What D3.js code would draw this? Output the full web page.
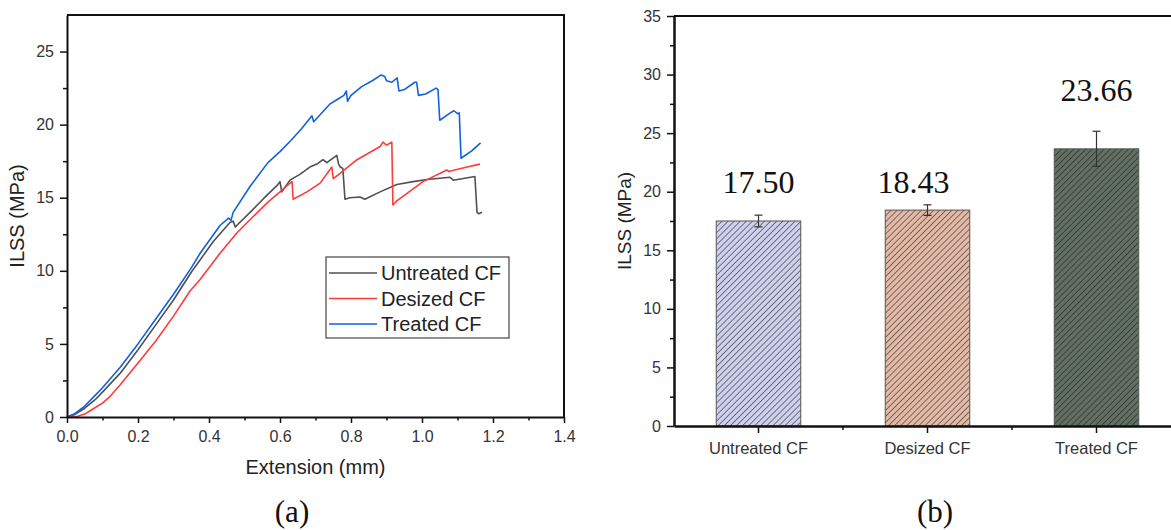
<!DOCTYPE html>
<html>
<head>
<meta charset="utf-8">
<script src="https://cdn.jsdelivr.net/npm/d3@7"></script>
<style>
  body { margin: 0; background: #fff; }
  svg { display: block; }
  text { font-family: "Liberation Sans", Arial, sans-serif; }
  .serif { font-family: "Liberation Serif", "Times New Roman", serif; }
</style>
</head>
<body>
<svg id="chart" width="1171" height="530"></svg>
<script>
// (a) load-extension curves
const untreatedX = [0, 0.02, 0.05, 0.08, 0.1, 0.15, 0.2, 0.25, 0.3, 0.35, 0.412, 0.459, 0.468, 0.474, 0.478, 0.52, 0.552, 0.594, 0.6, 0.605, 0.628, 0.656, 0.684, 0.704, 0.721, 0.732, 0.76, 0.765, 0.77, 0.777, 0.783, 0.797, 0.825, 0.839, 0.882, 0.929, 0.975, 1.014, 1.079, 1.088, 1.149, 1.155, 1.16, 1.169];
const untreatedY = [0, 0.15, 0.6, 1.2, 1.7, 3.0, 4.6, 6.3, 8.0, 9.9, 12.0, 13.3, 13.4, 13.0, 13.1, 14.1, 14.9, 15.9, 16.1, 15.4, 16.2, 16.6, 17.1, 17.3, 17.6, 17.4, 17.9, 17.3, 17.1, 17.0, 14.9, 15.0, 15.05, 14.9, 15.4, 15.9, 16.1, 16.25, 16.4, 16.2, 16.45, 14.0, 13.9, 14.0];

const desizedX = [0, 0.03, 0.05, 0.073, 0.1, 0.121, 0.15, 0.2, 0.25, 0.3, 0.346, 0.375, 0.431, 0.479, 0.524, 0.566, 0.6, 0.623, 0.634, 0.637, 0.676, 0.713, 0.746, 0.75, 0.755, 0.817, 0.882, 0.89, 0.9, 0.915, 0.918, 0.93, 0.958, 1.003, 1.07, 1.075, 1.127, 1.163];
const desizedY = [0, 0.05, 0.2, 0.55, 0.95, 1.4, 2.2, 3.7, 5.2, 6.9, 8.6, 9.4, 11.2, 12.6, 13.7, 14.7, 15.4, 15.9, 16.1, 14.9, 15.4, 16.0, 17.1, 16.3, 16.4, 17.6, 18.5, 18.8, 18.6, 18.8, 14.5, 14.8, 15.3, 16.1, 16.9, 16.8, 17.1, 17.3];

const treatedX = [0, 0.02, 0.05, 0.08, 0.1, 0.15, 0.2, 0.25, 0.3, 0.35, 0.375, 0.431, 0.455, 0.462, 0.468, 0.515, 0.566, 0.6, 0.63, 0.66, 0.69, 0.695, 0.74, 0.76, 0.78, 0.787, 0.79, 0.8, 0.83, 0.86, 0.885, 0.895, 0.9, 0.915, 0.93, 0.935, 0.95, 0.98, 0.985, 0.99, 1.01, 1.04, 1.045, 1.05, 1.08, 1.09, 1.1, 1.105, 1.11, 1.14, 1.165];
const treatedY = [0, 0.2, 0.75, 1.5, 2.0, 3.4, 5.0, 6.7, 8.4, 10.2, 11.2, 13.1, 13.6, 13.45, 14.0, 15.75, 17.4, 18.15, 18.9, 19.7, 20.6, 20.2, 21.4, 21.7, 22.0, 22.3, 21.6, 22.0, 22.6, 23.0, 23.4, 23.3, 23.0, 22.9, 23.2, 22.3, 22.4, 22.9, 22.9, 22.0, 22.1, 22.5, 22.4, 20.3, 20.8, 20.95, 20.75, 20.8, 17.7, 18.2, 18.75];

const seriesNames = ["Untreated CF", "Desized CF", "Treated CF"];
const xTicksA = [0, 0.2, 0.4, 0.6, 0.8, 1.0, 1.2, 1.4];
const yTicksA = [0, 5, 10, 15, 20, 25];

// (b) ILSS bars
const categories = ["Untreated CF", "Desized CF", "Treated CF"];
const ilss = [17.50, 18.43, 23.66];
const ilssErr = [0.5, 0.45, 1.5];
const yTicksB = [0, 5, 10, 15, 20, 25, 30, 35];

const svg = d3.select("#chart");

// ---------- panel (a) ----------
const xA = d3.scaleLinear().domain([0, 1.4]).range([67, 564]);
const yA = d3.scaleLinear().domain([0, 27.5]).range([417, 15]);

const lineColors = ["#505050", "#ff3a3a", "#0f62dc"];
const curves = [
  d3.zip(untreatedX, untreatedY),
  d3.zip(desizedX, desizedY),
  d3.zip(treatedX, treatedY)
];
const line = d3.line().x(d => xA(d[0])).y(d => yA(d[1]));

svg.append("g")
  .selectAll("path")
  .data(curves)
  .enter()
  .append("path")
  .attr("d", line)
  .attr("fill", "none")
  .attr("stroke", (d, i) => lineColors[i])
  .attr("stroke-width", 1.6)
  .attr("stroke-linejoin", "round");

// frame
svg.append("path")
  .attr("d", `M${xA(0)},${yA(27.5)}H${xA(1.4)}V${yA(0)}`)
  .attr("fill", "none").attr("stroke", "#111").attr("stroke-width", 2);

function styleAxis(g, size) {
  g.select(".domain").attr("stroke", "#111").attr("stroke-width", 2);
  g.selectAll(".tick line").attr("stroke", "#111").attr("stroke-width", 1.5);
  g.selectAll(".tick text").attr("fill", "#333").attr("font-size", size);
}

svg.append("g").attr("transform", `translate(0,${yA(0)})`)
  .call(d3.axisBottom(xA).tickValues([0.1, 0.3, 0.5, 0.7, 0.9, 1.1, 1.3]).tickSize(3.5).tickSizeOuter(0).tickFormat(""))
  .call(g => g.select(".domain").remove())
  .call(g => g.selectAll("line").attr("stroke", "#111").attr("stroke-width", 1.5));
svg.append("g").attr("transform", `translate(0,${yA(0)})`)
  .call(d3.axisBottom(xA).tickValues(xTicksA).tickSize(6).tickSizeOuter(0).tickPadding(8).tickFormat(d3.format(".1f")))
  .call(g => styleAxis(g, 16));

svg.append("g").attr("transform", `translate(${xA(0)},0)`)
  .call(d3.axisLeft(yA).tickValues([2.5, 7.5, 12.5, 17.5, 22.5]).tickSize(4).tickSizeOuter(0).tickFormat(""))
  .call(g => g.select(".domain").remove())
  .call(g => g.selectAll("line").attr("stroke", "#111").attr("stroke-width", 1.5));
svg.append("g").attr("transform", `translate(${xA(0)},0)`)
  .call(d3.axisLeft(yA).tickValues(yTicksA).tickSize(7).tickSizeOuter(0).tickPadding(6))
  .call(g => styleAxis(g, 16));

svg.append("text")
  .attr("x", (xA(0) + xA(1.4)) / 2).attr("y", 474)
  .attr("text-anchor", "middle").attr("font-size", 20).attr("fill", "#222")
  .text("Extension (mm)");
svg.append("text")
  .attr("transform", `translate(24,${(yA(0) + yA(27.5)) / 2}) rotate(-90)`)
  .attr("text-anchor", "middle").attr("font-size", 20).attr("fill", "#222")
  .text("ILSS (MPa)");
svg.append("text").attr("class", "serif")
  .attr("x", 292).attr("y", 522)
  .attr("text-anchor", "middle").attr("font-size", 31).attr("fill", "#111")
  .text("(a)");

// legend
const legend = svg.append("g").attr("transform", "translate(326,257)");
legend.append("rect").attr("width", 183).attr("height", 81)
  .attr("fill", "#fff").attr("stroke", "#444").attr("stroke-width", 1.2);
const rows = legend.selectAll("g.row").data(seriesNames).enter()
  .append("g").attr("class", "row")
  .attr("transform", (d, i) => `translate(0,${16 + i * 25.5})`);
rows.append("line").attr("x1", 3).attr("x2", 51)
  .attr("stroke", (d, i) => lineColors[i]).attr("stroke-width", 1.6);
rows.append("text").attr("x", 55).attr("dy", "0.36em")
  .attr("font-size", 20).attr("fill", "#222").text(d => d);

// ---------- panel (b) ----------
const xB = d3.scaleBand().domain(categories).range([674, 1181]).paddingInner(0.5).paddingOuter(0.25);
const yB = d3.scaleLinear().domain([0, 35]).range([426, 16]);

const barFills = ["#cfd0ec", "#e2b9a6", "#627063"];
const hatchColors = ["#3c3c48", "#4a3a34", "#262a26"];
const defs = svg.append("defs");
categories.forEach((c, i) => {
  const p = defs.append("pattern")
    .attr("id", "hatch" + i)
    .attr("patternUnits", "userSpaceOnUse")
    .attr("width", 4.3).attr("height", 4.3)
    .attr("patternTransform", "rotate(45)");
  p.append("rect").attr("width", 4.3).attr("height", 4.3).attr("fill", barFills[i]);
  p.append("line").attr("x1", 0).attr("y1", 0).attr("x2", 0).attr("y2", 4.3)
    .attr("stroke", hatchColors[i]).attr("stroke-width", 1.3);
});

svg.append("g")
  .selectAll("rect")
  .data(categories)
  .enter()
  .append("rect")
  .attr("x", d => xB(d))
  .attr("width", xB.bandwidth())
  .attr("y", (d, i) => yB(ilss[i]))
  .attr("height", (d, i) => yB(0) - yB(ilss[i]))
  .attr("fill", (d, i) => `url(#hatch${i})`)
  .attr("stroke", "#555")
  .attr("stroke-width", 1);

// error bars
const eb = svg.append("g").selectAll("g").data(categories).enter().append("g")
  .attr("stroke", "#333").attr("stroke-width", 1.2);
eb.append("line")
  .attr("x1", d => xB(d) + xB.bandwidth() / 2).attr("x2", d => xB(d) + xB.bandwidth() / 2)
  .attr("y1", (d, i) => yB(ilss[i] - ilssErr[i])).attr("y2", (d, i) => yB(ilss[i] + ilssErr[i]));
eb.append("line")
  .attr("x1", d => xB(d) + xB.bandwidth() / 2 - 4).attr("x2", d => xB(d) + xB.bandwidth() / 2 + 4)
  .attr("y1", (d, i) => yB(ilss[i] + ilssErr[i])).attr("y2", (d, i) => yB(ilss[i] + ilssErr[i]));
eb.append("line")
  .attr("x1", d => xB(d) + xB.bandwidth() / 2 - 4).attr("x2", d => xB(d) + xB.bandwidth() / 2 + 4)
  .attr("y1", (d, i) => yB(ilss[i] - ilssErr[i])).attr("y2", (d, i) => yB(ilss[i] - ilssErr[i]));

// value labels
const labelLevel = [19.9, 19.9, 27.75];
const labelShift = [0, -14, 0];
svg.append("g").selectAll("text").data(categories).enter()
  .append("text").attr("class", "serif")
  .attr("x", (d, i) => xB(d) + xB.bandwidth() / 2 + labelShift[i])
  .attr("y", (d, i) => yB(labelLevel[i]))
  .attr("text-anchor", "middle").attr("font-size", 32).attr("fill", "#111")
  .text((d, i) => d3.format(".2f")(ilss[i]));

// frame top
svg.append("line")
  .attr("x1", 674).attr("x2", 1181).attr("y1", yB(35)).attr("y2", yB(35))
  .attr("stroke", "#111").attr("stroke-width", 2);

// axes
svg.append("g").attr("transform", `translate(0,${yB(0)})`)
  .call(g => g.selectAll("line.minor").data(categories.slice(1)).enter().append("line")
    .attr("class", "minor")
    .attr("x1", d => xB(d) - (xB.step() - xB.bandwidth()) / 2)
    .attr("x2", d => xB(d) - (xB.step() - xB.bandwidth()) / 2)
    .attr("y2", 4).attr("stroke", "#111").attr("stroke-width", 1.5));
svg.append("g").attr("transform", `translate(0,${yB(0)})`)
  .call(d3.axisBottom(xB).tickSize(7).tickSizeOuter(0).tickPadding(9))
  .call(g => styleAxis(g, 16.5))
  .call(g => g.select(".domain").attr("stroke-width", 2.5));

svg.append("g").attr("transform", `translate(674,0)`)
  .call(d3.axisLeft(yB).tickValues(d3.range(2.5, 35, 5)).tickSize(4).tickSizeOuter(0).tickFormat(""))
  .call(g => g.select(".domain").remove())
  .call(g => g.selectAll("line").attr("stroke", "#111").attr("stroke-width", 1.5));
svg.append("g").attr("transform", `translate(674,0)`)
  .call(d3.axisLeft(yB).tickValues(yTicksB).tickSize(7).tickSizeOuter(0).tickPadding(6))
  .call(g => styleAxis(g, 16))
  .call(g => g.select(".domain").attr("stroke-width", 2.5));

svg.append("text")
  .attr("transform", `translate(631,${(yB(0) + yB(35)) / 2}) rotate(-90)`)
  .attr("text-anchor", "middle").attr("font-size", 19).attr("fill", "#222")
  .text("ILSS (MPa)");
svg.append("text").attr("class", "serif")
  .attr("x", 935).attr("y", 522)
  .attr("text-anchor", "middle").attr("font-size", 31).attr("fill", "#111")
  .text("(b)");
</script>
</body>
</html>
